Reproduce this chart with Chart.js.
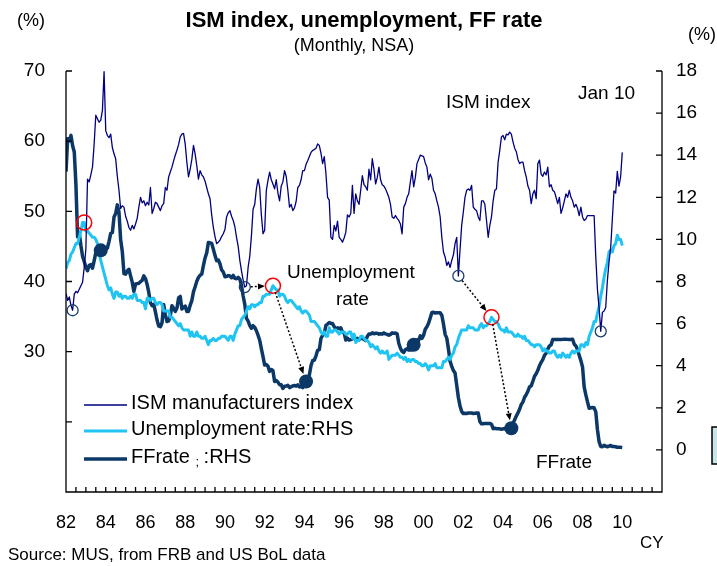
<!DOCTYPE html>
<html lang="en">
<head>
<meta charset="UTF-8">
<title>ISM index, unemployment, FF rate</title>
<script src="https://cdn.jsdelivr.net/npm/chart.js@4.4.1/dist/chart.umd.min.js"></script>
<style>
  html, body { margin: 0; padding: 0; background: #fff; }
  #wrap { position: relative; width: 717px; height: 566px; }
</style>
</head>
<body>
<div id="wrap"><canvas id="chart" width="717" height="566"></canvas></div>
<script>
// monthly, Jan 1982 .. Jan 2010 (x = months since Jan 1982)
const yearLabels = ['82','84','86','88','90','92','94','96','98','00','02','04','06','08','10'];

const ismIndex = [
  38.3, 37.3, 37.8, 36.6, 35.9, 38.2, 38.6, 38.4, 38.9, 39.4, 39.9, 42.0,
  44.6, 54.6, 54.2, 55.2, 56.3, 59.6, 63.7, 63.2, 62.7, 63.0, 64.4, 69.9,
  61.5, 60.8, 60.5, 61.0, 59.1, 58.2, 57.5, 55.0, 53.0, 50.4, 50.8, 50.6,
  49.3, 48.6, 47.7, 47.3, 48.0, 47.5, 48.2, 49.0, 50.6, 52.0, 51.2, 51.5,
  50.8, 51.3, 50.9, 53.4, 49.7, 50.4, 51.3, 51.1, 50.6, 50.1, 50.8, 51.1,
  53.4, 53.0, 54.9, 55.6, 56.3, 57.2, 58.0, 58.7, 59.5, 60.6, 61.0, 61.1,
  59.6, 57.0, 54.9, 56.0, 57.4, 59.4, 58.2, 56.5, 54.6, 55.8, 55.2, 54.9,
  54.3, 53.4, 52.5, 51.8, 49.5, 47.7, 46.4, 45.4, 45.6, 45.9, 46.4, 46.8,
  47.4, 49.2, 49.8, 50.1, 49.3, 48.7, 47.8, 46.3, 45.0, 43.0, 41.5, 40.2,
  39.2, 39.4, 42.0, 43.6, 46.5, 50.3, 51.0, 53.2, 54.6, 53.4, 49.5, 46.8,
  47.3, 53.0, 54.4, 55.6, 54.5, 53.9, 53.2, 54.5, 52.6, 51.5, 53.6, 54.2,
  55.8, 55.0, 53.0, 50.6, 51.0, 50.1, 50.5, 51.4, 53.4, 53.7, 54.5, 55.8,
  55.8, 56.7, 57.2, 57.8, 58.4, 58.7, 58.8, 59.0, 59.6, 59.4, 58.3, 56.8,
  57.8, 55.4, 52.0, 51.6, 46.3, 46.0, 48.0, 47.2, 48.6, 46.3, 46.0, 45.6,
  46.2, 47.0, 49.5, 49.2, 49.7, 53.7, 49.7, 52.5, 51.5, 51.0, 53.0, 55.1,
  53.8, 53.5, 53.0, 56.0, 54.5, 57.5, 56.0, 53.9, 54.8, 56.3, 54.5, 53.8,
  53.6, 53.2, 52.6, 52.0, 51.0, 49.2, 49.0, 49.4, 49.0, 48.7, 48.2, 46.8,
  50.6, 51.1, 52.0, 52.5, 54.2, 55.8, 53.5, 54.8, 56.8, 57.4, 58.0, 57.9,
  57.8, 56.9, 56.3, 54.5, 55.3, 54.7, 53.0, 52.5, 51.5, 50.6, 49.2, 46.3,
  44.2, 43.5, 42.3, 42.8, 42.0, 43.0, 43.8, 45.4, 46.3, 40.8, 44.5, 48.0,
  49.9, 52.0, 53.0, 53.2, 53.0, 53.7, 50.6, 50.3, 50.1, 49.2, 48.7, 51.5,
  51.5, 51.0, 48.7, 46.3, 48.0, 49.2, 51.5, 53.0, 53.2, 57.0, 58.7, 60.6,
  60.8, 60.2, 61.0, 60.9, 61.3, 61.0, 59.9, 59.0, 58.5, 57.4, 56.8, 57.0,
  57.0, 55.8, 54.9, 53.6, 53.0, 51.1, 52.5, 53.0, 51.8, 56.8, 57.3, 55.3,
  55.0, 55.6, 55.2, 56.3, 53.5, 53.8, 53.0, 52.8, 52.0, 51.1, 52.0, 49.7,
  50.5, 51.5, 52.5, 52.0, 53.0, 52.0, 51.5, 50.6, 51.0, 50.4, 49.4, 50.6,
  49.2, 48.7, 48.9, 49.4, 49.4, 49.4, 49.4, 49.4, 43.5, 38.9, 36.2, 32.9,
  35.6, 35.8, 36.3, 40.1, 42.8, 44.8, 48.9, 52.9, 52.6, 55.7, 53.6, 54.9,
  58.4
];

const unemploymentRate = [
  8.6, 8.9, 9.0, 9.3, 9.4, 9.6, 9.8, 9.8, 10.1, 10.4, 10.8, 10.8,
  10.4, 10.4, 10.3, 10.2, 10.1, 10.1, 10.0, 9.8, 9.4, 9.0, 8.7, 8.4,
  8.1, 7.8, 7.6, 7.7, 7.4, 7.2, 7.5, 7.5, 7.3, 7.4, 7.2, 7.3,
  7.3, 7.2, 7.2, 7.3, 7.2, 7.4, 7.4, 7.1, 7.1, 7.1, 7.0, 7.0,
  6.7, 7.2, 7.2, 7.1, 7.2, 7.2, 7.0, 6.9, 7.0, 7.0, 6.9, 6.6,
  6.6, 6.6, 6.6, 6.3, 6.3, 6.2, 6.1, 6.0, 5.9, 6.0, 5.8, 5.7,
  5.7, 5.7, 5.7, 5.4, 5.6, 5.4, 5.4, 5.6, 5.4, 5.4, 5.3, 5.3,
  5.4, 5.2, 5.0, 5.2, 5.2, 5.3, 5.2, 5.2, 5.3, 5.3, 5.4, 5.4,
  5.4, 5.3, 5.2, 5.4, 5.4, 5.2, 5.5, 5.7, 5.9, 5.9, 6.2, 6.3,
  6.4, 6.6, 6.8, 6.7, 6.9, 6.9, 6.8, 6.9, 6.9, 7.0, 7.0, 7.3,
  7.3, 7.4, 7.4, 7.4, 7.6, 7.8, 7.7, 7.6, 7.6, 7.3, 7.4, 7.4,
  7.3, 7.1, 7.0, 7.1, 7.1, 7.0, 6.9, 6.8, 6.7, 6.8, 6.6, 6.5,
  6.6, 6.6, 6.5, 6.4, 6.1, 6.1, 6.1, 6.0, 5.9, 5.8, 5.6, 5.5,
  5.6, 5.4, 5.4, 5.8, 5.6, 5.6, 5.7, 5.7, 5.6, 5.5, 5.6, 5.6,
  5.6, 5.5, 5.5, 5.6, 5.6, 5.3, 5.5, 5.1, 5.2, 5.2, 5.4, 5.4,
  5.3, 5.2, 5.2, 5.1, 4.9, 5.0, 4.9, 4.8, 4.9, 4.7, 4.6, 4.7,
  4.6, 4.6, 4.7, 4.3, 4.4, 4.5, 4.5, 4.5, 4.6, 4.5, 4.4, 4.4,
  4.3, 4.4, 4.2, 4.3, 4.2, 4.3, 4.3, 4.2, 4.2, 4.1, 4.1, 4.0,
  4.0, 4.1, 4.0, 3.8, 4.0, 4.0, 4.0, 4.1, 3.9, 3.9, 3.9, 3.9,
  4.2, 4.2, 4.3, 4.4, 4.3, 4.5, 4.6, 4.9, 5.0, 5.3, 5.5, 5.7,
  5.7, 5.7, 5.7, 5.9, 5.8, 5.8, 5.8, 5.7, 5.7, 5.7, 5.9, 6.0,
  5.8, 5.9, 5.9, 6.0, 6.1, 6.3, 6.2, 6.1, 6.1, 6.0, 5.8, 5.7,
  5.7, 5.6, 5.8, 5.6, 5.6, 5.6, 5.5, 5.4, 5.4, 5.5, 5.4, 5.4,
  5.3, 5.4, 5.2, 5.2, 5.1, 5.0, 5.0, 4.9, 5.0, 5.0, 5.0, 4.9,
  4.7, 4.8, 4.7, 4.7, 4.6, 4.6, 4.7, 4.7, 4.5, 4.4, 4.5, 4.4,
  4.6, 4.5, 4.4, 4.5, 4.4, 4.6, 4.7, 4.6, 4.7, 4.7, 4.7, 5.0,
  5.0, 4.9, 5.1, 5.0, 5.4, 5.6, 5.8, 6.1, 6.1, 6.5, 6.8, 7.3,
  7.7, 8.2, 8.6, 8.9, 9.4, 9.5, 9.4, 9.7, 9.8, 10.2, 10.0, 10.0,
  9.7
];

const ffRate = [
  13.22, 14.78, 14.68, 14.94, 14.45, 14.15, 12.59, 10.12, 10.31, 9.71, 9.20, 8.95,
  8.68, 8.51, 8.77, 8.80, 8.63, 8.98, 9.37, 9.56, 9.45, 9.48, 9.34, 9.47,
  9.56, 9.59, 9.91, 10.29, 10.32, 11.06, 11.23, 11.64, 11.30, 9.99, 9.43, 8.38,
  8.35, 8.50, 8.58, 8.27, 7.97, 7.53, 7.88, 7.90, 7.92, 7.99, 8.05, 8.27,
  8.14, 7.86, 7.48, 6.99, 6.85, 6.92, 6.56, 6.17, 5.89, 5.85, 6.04, 6.91,
  6.43, 6.10, 6.13, 6.37, 6.85, 6.73, 6.58, 6.73, 7.22, 7.29, 6.69, 6.77,
  6.83, 6.58, 6.58, 6.87, 7.09, 7.51, 7.75, 8.01, 8.19, 8.30, 8.35, 8.76,
  9.12, 9.36, 9.85, 9.84, 9.81, 9.53, 9.24, 8.99, 9.02, 8.84, 8.55, 8.45,
  8.23, 8.24, 8.28, 8.26, 8.18, 8.29, 8.15, 8.13, 8.20, 8.11, 7.81, 7.31,
  6.91, 6.25, 6.12, 5.91, 5.78, 5.90, 5.82, 5.66, 5.45, 5.21, 4.81, 4.43,
  4.03, 4.06, 3.98, 3.73, 3.82, 3.76, 3.25, 3.30, 3.22, 3.10, 3.09, 2.92,
  3.02, 3.03, 3.07, 2.96, 3.00, 3.04, 3.06, 3.03, 3.09, 2.99, 3.02, 2.96,
  3.05, 3.25, 3.34, 3.56, 4.01, 4.25, 4.26, 4.47, 4.73, 4.76, 5.29, 5.45,
  5.53, 5.92, 5.98, 6.05, 6.01, 6.00, 5.85, 5.74, 5.80, 5.76, 5.80, 5.60,
  5.56, 5.22, 5.31, 5.22, 5.24, 5.27, 5.40, 5.22, 5.30, 5.24, 5.31, 5.29,
  5.25, 5.19, 5.39, 5.51, 5.50, 5.56, 5.52, 5.54, 5.54, 5.50, 5.52, 5.50,
  5.56, 5.51, 5.49, 5.45, 5.49, 5.56, 5.54, 5.55, 5.51, 5.07, 4.83, 4.68,
  4.63, 4.76, 4.81, 4.74, 4.74, 4.76, 4.99, 5.07, 5.22, 5.20, 5.42, 5.30,
  5.45, 5.73, 5.85, 6.02, 6.27, 6.53, 6.54, 6.50, 6.52, 6.51, 6.51, 6.40,
  5.98, 5.49, 5.31, 4.80, 4.21, 3.97, 3.77, 3.65, 3.07, 2.49, 2.09, 1.82,
  1.73, 1.74, 1.73, 1.75, 1.75, 1.75, 1.73, 1.74, 1.75, 1.75, 1.34, 1.24,
  1.24, 1.26, 1.25, 1.26, 1.26, 1.22, 1.01, 1.03, 1.01, 1.01, 1.00, 0.98,
  1.00, 1.01, 1.00, 1.00, 1.00, 1.03, 1.26, 1.43, 1.61, 1.76, 1.93, 2.16,
  2.28, 2.50, 2.63, 2.79, 3.00, 3.04, 3.26, 3.50, 3.62, 3.78, 4.00, 4.16,
  4.29, 4.49, 4.59, 4.79, 4.94, 4.99, 5.24, 5.25, 5.25, 5.25, 5.25, 5.24,
  5.25, 5.26, 5.26, 5.25, 5.25, 5.25, 5.26, 5.02, 4.94, 4.76, 4.49, 4.24,
  3.94, 2.98, 2.61, 2.28, 1.98, 2.00, 2.01, 2.00, 1.81, 0.97, 0.39, 0.16,
  0.15, 0.22, 0.18, 0.15, 0.18, 0.21, 0.16, 0.16, 0.15, 0.12, 0.12, 0.12,
  0.11
];

// marked months (index into the series above)
const ismLows = [4, 108, 237, 323];
const unemploymentPeaks = [11, 125, 257];
const ffLows = [21, 145, 210, 269];

const FONT = '"Liberation Sans", Arial, sans-serif';
const C_ISM = '#000080';
const C_UNEMP = '#1fc4f2';
const C_FF = '#0b3866';

const pts = (arr) => arr.map((v, i) => ({ x: i, y: v }));
const pick = (idx, arr) => idx.map(i => ({ x: i, y: arr[i] }));

function arrow(ctx, x1, y1, x2, y2, r1, r2) {
  const a = Math.atan2(y2 - y1, x2 - x1);
  const sx = x1 + Math.cos(a) * r1, sy = y1 + Math.sin(a) * r1;
  const ex = x2 - Math.cos(a) * r2, ey = y2 - Math.sin(a) * r2;
  ctx.save();
  ctx.strokeStyle = '#000';
  ctx.fillStyle = '#000';
  ctx.lineWidth = 1.5;
  ctx.setLineDash([2, 2]);
  ctx.beginPath();
  ctx.moveTo(sx, sy);
  ctx.lineTo(ex - Math.cos(a) * 5, ey - Math.sin(a) * 5);
  ctx.stroke();
  ctx.setLineDash([]);
  ctx.beginPath();
  ctx.moveTo(ex, ey);
  ctx.lineTo(ex - 7 * Math.cos(a) + 3 * Math.sin(a), ey - 7 * Math.sin(a) - 3 * Math.cos(a));
  ctx.lineTo(ex - 7 * Math.cos(a) - 3 * Math.sin(a), ey - 7 * Math.sin(a) + 3 * Math.cos(a));
  ctx.closePath();
  ctx.fill();
  ctx.restore();
}

const decor = {
  id: 'decor',
  afterDatasetsDraw(chart) {
    const { ctx, chartArea: a, scales } = chart;
    const x = scales.x, yL = scales.yL, yR = scales.yR;
    const P = (i, arr, s) => [x.getPixelForValue(i), s.getPixelForValue(arr[i])];

    // dotted arrows: ISM low -> unemployment peak -> FF low
    let p1 = P(ismLows[1], ismIndex, yL), p2 = P(unemploymentPeaks[1], unemploymentRate, yR), p3 = P(ffLows[1], ffRate, yR);
    arrow(ctx, p1[0], p1[1], p2[0], p2[1], 6, 8);
    arrow(ctx, p2[0], p2[1], p3[0], p3[1], 7, 8);
    p1 = P(ismLows[2], ismIndex, yL); p2 = P(unemploymentPeaks[2], unemploymentRate, yR); p3 = P(ffLows[3], ffRate, yR);
    arrow(ctx, p1[0], p1[1], p2[0], p2[1], 6, 8);
    arrow(ctx, p2[0], p2[1], p3[0], p3[1], 7, 8);

    // axes frame and inward ticks
    ctx.save();
    ctx.strokeStyle = '#000';
    ctx.lineWidth = 1.3;
    ctx.beginPath();
    ctx.moveTo(a.left, a.top); ctx.lineTo(a.left, a.bottom); ctx.lineTo(a.right, a.bottom); ctx.lineTo(a.right, a.top);
    yL.ticks.forEach(t => { const y = yL.getPixelForValue(t.value); ctx.moveTo(a.left, y); ctx.lineTo(a.left + 6, y); });
    yR.ticks.forEach(t => { if (t.value <= yR.min) return; const y = yR.getPixelForValue(t.value); ctx.moveTo(a.right, y); ctx.lineTo(a.right - 6, y); });
    for (let m = 0; m <= x.max; m += 6) { const px = x.getPixelForValue(m); ctx.moveTo(px, a.bottom); ctx.lineTo(px, a.bottom - 5); }
    ctx.stroke();
    ctx.restore();
  },
  afterDraw(chart) {
    const { ctx } = chart;
    ctx.save();
    ctx.fillStyle = '#000';
    ctx.textBaseline = 'alphabetic';
    ctx.textAlign = 'center';
    ctx.font = 'bold 22px ' + FONT;
    ctx.fillText('ISM index, unemployment, FF rate', 364, 27);
    ctx.font = '18px ' + FONT;
    ctx.fillText('(Monthly, NSA)', 354, 51);
    ctx.textAlign = 'left';
    ctx.fillText('(%)', 17, 26);
    ctx.fillText('(%)', 688, 40);

    // annotations
    ctx.font = '19px ' + FONT;
    ctx.fillText('ISM index', 446, 108);
    ctx.fillText('Jan 10', 578, 99);
    ctx.fillText('Unemployment', 287, 278);
    ctx.fillText('rate', 336, 305);
    ctx.fillText('FFrate', 536, 468);

    // legend
    const items = [
      { parts: ['ISM manufacturers index'], color: C_ISM, w: 1.3, y: 405 },
      { parts: ['Unemployment rate:RHS'], color: C_UNEMP, w: 3, y: 431 },
      { parts: ['FFrate ', ';', ' :RHS'], color: C_FF, w: 3.5, y: 459 }
    ];
    items.forEach(it => {
      ctx.strokeStyle = it.color;
      ctx.lineWidth = it.w;
      ctx.beginPath(); ctx.moveTo(84, it.y); ctx.lineTo(127, it.y); ctx.stroke();
      let tx = 131;
      it.parts.forEach((s, k) => {
        const small = s === ';';
        ctx.font = (small ? '13px ' : '20px ') + FONT;
        ctx.fillText(s, tx, it.y + (small ? 7 : 4));
        tx += ctx.measureText(s).width - (small ? 1 : 0);
      });
    });

    // source / unit
    ctx.font = '17px ' + FONT;
    ctx.fillText('Source: MUS, from FRB and US BoL data', 8, 560);
    ctx.fillText('CY', 640, 548);

    // stray text box at right edge
    ctx.fillStyle = '#c9e5e8';
    ctx.strokeStyle = '#000';
    ctx.lineWidth = 1.5;
    ctx.fillRect(712, 427, 10, 37);
    ctx.strokeRect(712, 427, 10, 37);
    ctx.restore();
  }
};

new Chart(document.getElementById('chart'), {
  type: 'line',
  data: {
    datasets: [
      { label: 'ISM low', data: pick(ismLows, ismIndex), yAxisID: 'yL', showLine: false,
        pointRadius: 5.5, pointBorderWidth: 1.3, pointBorderColor: '#1a3f6b', pointBackgroundColor: 'rgba(0,0,0,0)', order: 0 },
      { label: 'Unemployment peak', data: pick(unemploymentPeaks, unemploymentRate), yAxisID: 'yR', showLine: false,
        pointRadius: 7.5, pointBorderWidth: 1.5, pointBorderColor: '#ff0000', pointBackgroundColor: 'rgba(0,0,0,0)', order: 0 },
      { label: 'FF low', data: pick(ffLows, ffRate), yAxisID: 'yR', showLine: false,
        pointRadius: 7, pointBorderWidth: 0, pointBackgroundColor: C_FF, order: 0 },
      { label: 'ISM manufacturers index', data: pts(ismIndex), yAxisID: 'yL',
        borderColor: C_ISM, borderWidth: 1.3, pointRadius: 0, order: 1 },
      { label: 'Unemployment rate:RHS', data: pts(unemploymentRate), yAxisID: 'yR',
        borderColor: C_UNEMP, borderWidth: 3, pointRadius: 0, order: 2 },
      { label: 'FFrate:RHS', data: pts(ffRate), yAxisID: 'yR',
        borderColor: C_FF, borderWidth: 3.5, pointRadius: 0, order: 3 }
    ]
  },
  options: {
    responsive: false,
    devicePixelRatio: 1,
    animation: false,
    layout: { padding: { top: 71, left: 0, right: 0, bottom: 0 } },
    plugins: { legend: { display: false }, tooltip: { enabled: false } },
    elements: { line: { tension: 0, borderJoinStyle: 'round' } },
    scales: {
      x: {
        type: 'linear', min: 0, max: 360,
        grid: { display: false, drawTicks: false }, border: { display: false },
        ticks: {
          stepSize: 24, autoSkip: false, maxRotation: 0, padding: 20,
          color: '#000', font: { family: FONT, size: 18 },
          callback: v => yearLabels[v / 24] || ''
        },
        afterFit: s => { s.height = 74; }
      },
      yL: {
        position: 'left', min: 10, max: 70,
        grid: { display: false, drawTicks: false }, border: { display: false },
        ticks: { stepSize: 10, padding: 21, color: '#000', font: { family: FONT, size: 19 },
          callback: v => (v >= 30 ? v : '') },
        afterFit: s => { s.width = 66; }
      },
      yR: {
        position: 'right', min: -2, max: 18,
        grid: { display: false, drawTicks: false }, border: { display: false },
        ticks: { stepSize: 2, padding: 14, color: '#000', font: { family: FONT, size: 19 },
          callback: v => (v >= 0 ? v : '') },
        afterFit: s => { s.width = 55; }
      }
    }
  },
  plugins: [decor]
});
</script>
</body>
</html>
